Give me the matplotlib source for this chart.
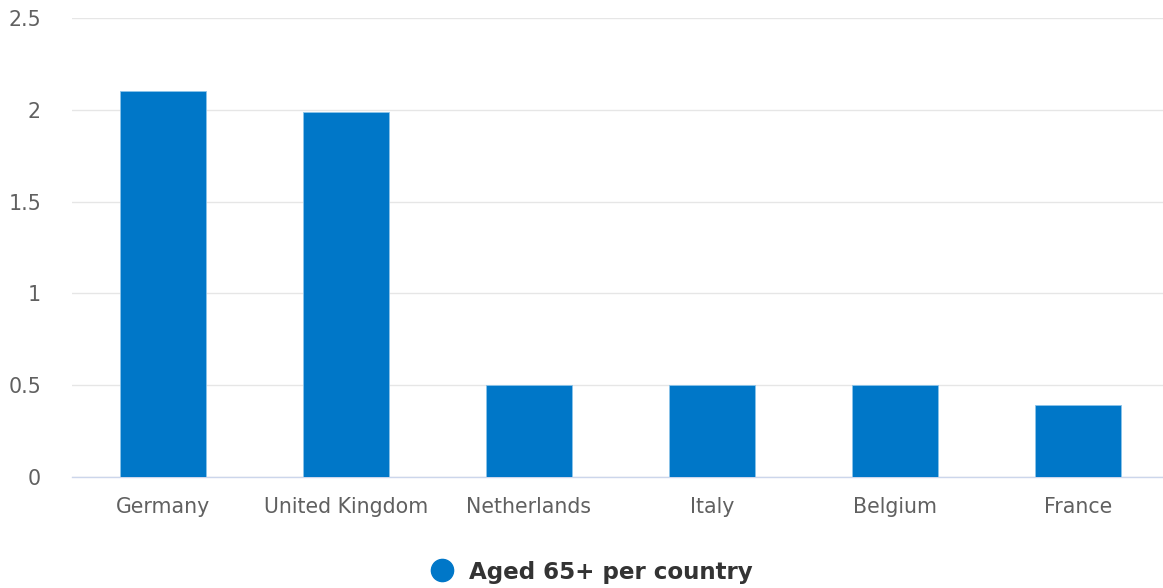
import matplotlib.pyplot as plt

countries = ['Germany', 'United Kingdom', 'Netherlands', 'Italy', 'Belgium', 'France']
values = [2.1, 1.99, 0.5, 0.5, 0.5, 0.39]
yticks = [0, 0.5, 1, 1.5, 2, 2.5]
ytick_labels = ['0', '0.5', '1', '1.5', '2', '2.5']

bar_color = '#0077c8'
plt.rcParams['font.family'] = ['DejaVu Sans']

W, H = 1163, 588
left, right, top, bottom = 71.5, 1169.5, 18, 477

fig = plt.figure(figsize=(W / 100, H / 100), dpi=100)
ax = fig.add_axes([left / W, 1 - bottom / H, (right - left) / W, (bottom - top) / H])

x = range(len(countries))
ax.bar(x, values, width=0.47, color=bar_color, edgecolor='#8cc4ea', linewidth=0.6,
       zorder=3)

ax.set_xlim(-0.5, len(countries) - 0.5)
ax.set_ylim(0, 2.5)
ax.set_yticks(yticks)
ax.set_yticklabels(ytick_labels)
ax.set_xticks(list(x))
ax.set_xticklabels(countries)

ax.grid(axis='y', color='#e6e6e6', linewidth=1, zorder=0)
for s in ['top', 'right', 'left']:
    ax.spines[s].set_visible(False)
ax.spines['bottom'].set_color('#ccd6eb')
ax.spines['bottom'].set_linewidth(1)
ax.tick_params(axis='both', length=0, labelsize=14.8, labelcolor='#606060')
ax.tick_params(axis='y', pad=22)
ax.tick_params(axis='x', pad=14.5)

# legend below the plot
fig.legend(handles=[plt.Line2D([], [], marker='o', linestyle='', markersize=16,
                               color=bar_color)],
           labels=['Aged 65+ per country'], loc='center',
           bbox_to_anchor=(586 / W, 1 - 572 / H), frameon=False,
           prop={'weight': 'bold', 'size': 16.6}, labelcolor='#333333',
           handletextpad=0.2, borderaxespad=0)

fig.savefig('out.png', dpi=100)
